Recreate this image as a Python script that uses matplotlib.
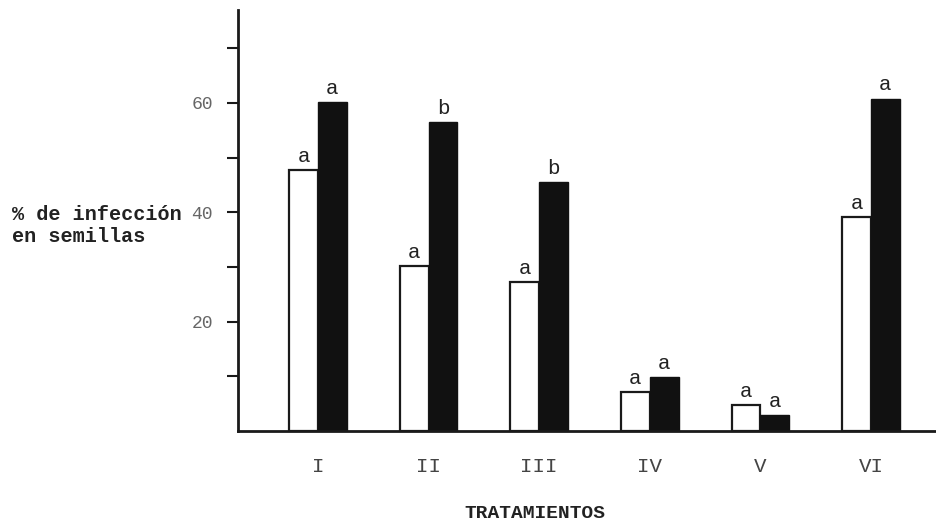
import matplotlib
matplotlib.use("Agg")
import matplotlib.pyplot as plt
import numpy as np

categories = ["I", "II", "III", "IV", "V", "VI"]
white_vals = [47.7, 30.2, 27.2, 7.1, 4.8, 39.2]
black_vals = [60.2, 56.5, 45.6, 9.9, 2.9, 60.8]
white_letters = ["a", "a", "a", "a", "a", "a"]
black_letters = ["a", "b", "b", "a", "a", "a"]
yticks = [10, 20, 30, 40, 50, 60, 70]
ytick_labels = ["", "20", "", "40", "", "60", ""]

W, H = 937, 522
fig = plt.figure(figsize=(W / 100, H / 100), dpi=100)
ax = fig.add_axes([238 / W, 1 - 431 / H, (W - 238) / W, 421 / H])

x = np.arange(len(categories))
bw = 0.26
ink = "#1a1a1a"
ax.bar(x - bw / 2, white_vals, width=bw, color="white", edgecolor=ink, linewidth=1.6, zorder=2)
ax.bar(x + bw / 2, black_vals, width=bw, color="#111111", edgecolor="#111111", linewidth=1.0, zorder=2)

for xi, v, t in zip(x - bw / 2, white_vals, white_letters):
    ax.annotate(t, (xi, v), xytext=(0, 3), textcoords="offset points", ha="center", va="bottom",
                family="Liberation Mono", fontsize=15, color="#222222")
for xi, v, t in zip(x + bw / 2, black_vals, black_letters):
    ax.annotate(t, (xi, v), xytext=(0, 3), textcoords="offset points", ha="center", va="bottom",
                family="Liberation Mono", fontsize=15, color="#222222")

ax.set_xlim(-0.723, 5.597)
ax.set_ylim(0, 77)
for s in ["top", "right"]:
    ax.spines[s].set_visible(False)
ax.spines["left"].set_linewidth(2)
ax.spines["bottom"].set_linewidth(2)
ax.spines["left"].set_color(ink)
ax.spines["bottom"].set_color(ink)

ax.set_yticks(yticks)
ax.set_yticklabels(ytick_labels, family="Liberation Mono", fontsize=13, color="#666666")
ax.tick_params(axis="y", direction="out", length=8, width=1.5, color=ink, pad=10)
ax.set_xticks(x)
ax.set_xticklabels(categories, family="Liberation Mono", fontsize=15, color="#444444")
ax.tick_params(axis="x", length=0, pad=19)

fig.text(12 / W, 1 - 226 / H, "% de infección\nen semillas", ha="left", va="center",
         family="Liberation Mono", weight="bold", fontsize=14.5, linespacing=1.2, color="#222222")
fig.text(535 / W, 1 - 513 / H, "TRATAMIENTOS", ha="center", va="center",
         family="Liberation Mono", weight="bold", fontsize=14, color="#222222")

fig.savefig("out.png", dpi=100, facecolor="white")
